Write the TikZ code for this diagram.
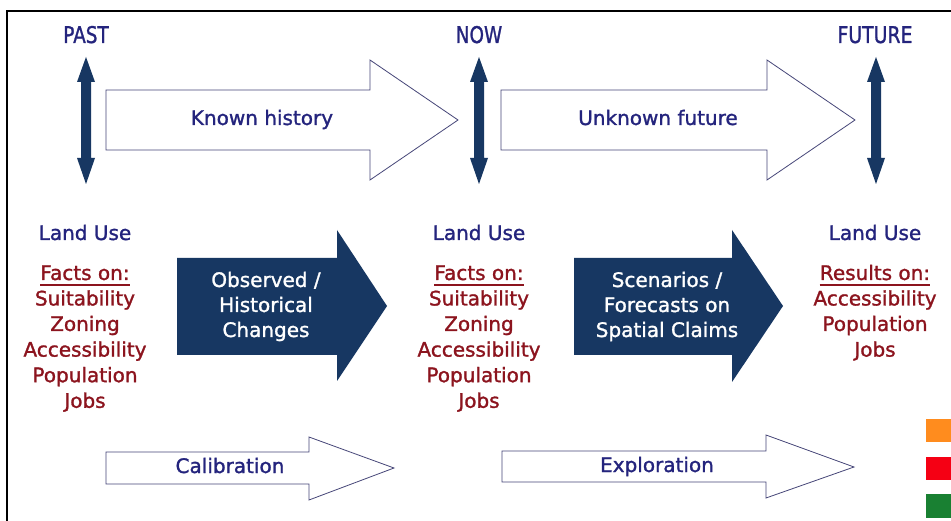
\documentclass[tikz,border=0pt]{standalone}
\usepackage{fontspec}
\setmainfont{DejaVu Sans}[RawFeature={embolden=1.3}]
\definecolor{navy}{RGB}{23,55,98}
\definecolor{txtblue}{RGB}{36,36,125}
\definecolor{txtred}{RGB}{140,20,30}
\definecolor{outl}{RGB}{70,70,120}
\definecolor{sqorange}{RGB}{255,140,30}
\definecolor{sqred}{RGB}{245,0,20}
\definecolor{sqgreen}{RGB}{25,128,50}
\tikzset{
  base/.style={inner sep=0pt, anchor=base, font=\fontsize{20}{24}\selectfont},
  bluetxt/.style={base, text=txtblue},
  redtxt/.style={base, text=txtred},
  whitetxt/.style={base, text=white},
  headtxt/.style={inner sep=0pt, anchor=base, text=txtblue, font=\fontsize{23}{26}\selectfont},
  outarrow/.style={draw=outl, line width=0.8pt, fill=white},
  fillarrow/.style={fill=navy},
  vdarr/.pic={\fill[navy] (0,57) -- (9,82) -- (5,82) -- (5,158) -- (9,158) -- (0,184) -- (-9,158) -- (-5,158) -- (-5,82) -- (-9,82) -- cycle;},
  uline/.style={draw=txtred, line width=1.4pt}
}
\begin{document}
\begin{tikzpicture}[x=1pt,y=-1pt]
\useasboundingbox (0,0) rectangle (951,521);
\fill[white] (0,0) rectangle (951,521);
\draw[line width=2.2pt] (7,521) -- (7,11) -- (951,11);

% time headers
\node[headtxt] (past) at (86,43) {\scalebox{0.8}[1]{PAST}};
\node[headtxt] (now) at (479,43) {\scalebox{0.8}[1]{NOW}};
\node[headtxt] (future) at (875,43) {\scalebox{0.82}[1]{FUTURE}};

% vertical double arrows
\pic at (86,0) {vdarr};
\pic at (479,0) {vdarr};
\pic at (876,0) {vdarr};

% outline arrows top
\draw[outarrow] (106,90) -- (370,90) -- (370,60) -- (458,120) -- (370,180) -- (370,150) -- (106,150) -- cycle;
\draw[outarrow] (501,90) -- (767,90) -- (767,60) -- (855,120) -- (767,180) -- (767,150) -- (501,150) -- cycle;
\node[bluetxt] (known) at (262,125) {Known history};
\node[bluetxt] (unknown) at (658,125) {Unknown future};

% filled arrows
\fill[fillarrow] (177,258) -- (337,258) -- (337,230) -- (387,306) -- (337,381) -- (337,355) -- (177,355) -- cycle;
\fill[fillarrow] (574,258) -- (732,258) -- (732,230) -- (783,306) -- (732,382) -- (732,355) -- (574,355) -- cycle;
\node[whitetxt] (obs1) at (266,287) {Observed /};
\node[whitetxt] (obs2) at (266,312) {Historical};
\node[whitetxt] (obs3) at (266,337) {Changes};
\node[whitetxt] (sc1) at (667,287) {Scenarios /};
\node[whitetxt] (sc2) at (667,312) {Forecasts on};
\node[whitetxt] (sc3) at (667,337) {Spatial Claims};

% left column
\node[bluetxt] (lu1) at (85,240) {Land Use};
\node[redtxt] (f1) at (85,280) {Facts on:};
\draw[uline] ([yshift=-5pt]f1.base west) -- ([yshift=-5pt]f1.base east);
\node[redtxt] (l1a) at (85,305.5) {Suitability};
\node[redtxt] (l1b) at (85,331) {Zoning};
\node[redtxt] (l1c) at (85,356.6) {Accessibility};
\node[redtxt] (l1d) at (85,382.2) {Population};
\node[redtxt] (l1e) at (85,407.8) {Jobs};

% middle column
\node[bluetxt] (lu2) at (479,240) {Land Use};
\node[redtxt] (f2) at (479,280) {Facts on:};
\draw[uline] ([yshift=-5pt]f2.base west) -- ([yshift=-5pt]f2.base east);
\node[redtxt] (l2a) at (479,305.5) {Suitability};
\node[redtxt] (l2b) at (479,331) {Zoning};
\node[redtxt] (l2c) at (479,356.6) {Accessibility};
\node[redtxt] (l2d) at (479,382.2) {Population};
\node[redtxt] (l2e) at (479,407.8) {Jobs};

% right column
\node[bluetxt] (lu3) at (875,240) {Land Use};
\node[redtxt] (r3) at (875,280) {Results on:};
\draw[uline] ([yshift=-5pt]r3.base west) -- ([yshift=-5pt]r3.base east);
\node[redtxt] (l3a) at (875,305.5) {Accessibility};
\node[redtxt] (l3b) at (875,331) {Population};
\node[redtxt] (l3c) at (875,356.6) {Jobs};

% bottom outline arrows
\draw[outarrow] (106,452) -- (309,452) -- (309,437) -- (394,468) -- (309,500) -- (309,484) -- (106,484) -- cycle;
\draw[outarrow] (502,451) -- (766,451) -- (766,435) -- (854,467) -- (766,498) -- (766,482) -- (502,482) -- cycle;
\node[bluetxt] (cal) at (230,473) {Calibration};
\node[bluetxt] (expl) at (657,472) {Exploration};

% colour squares
\fill[sqorange] (926,419) rectangle (951,442);
\fill[sqred] (926,457) rectangle (951,480);
\fill[sqgreen] (926,494) rectangle (951,518);
\end{tikzpicture}
\end{document}
